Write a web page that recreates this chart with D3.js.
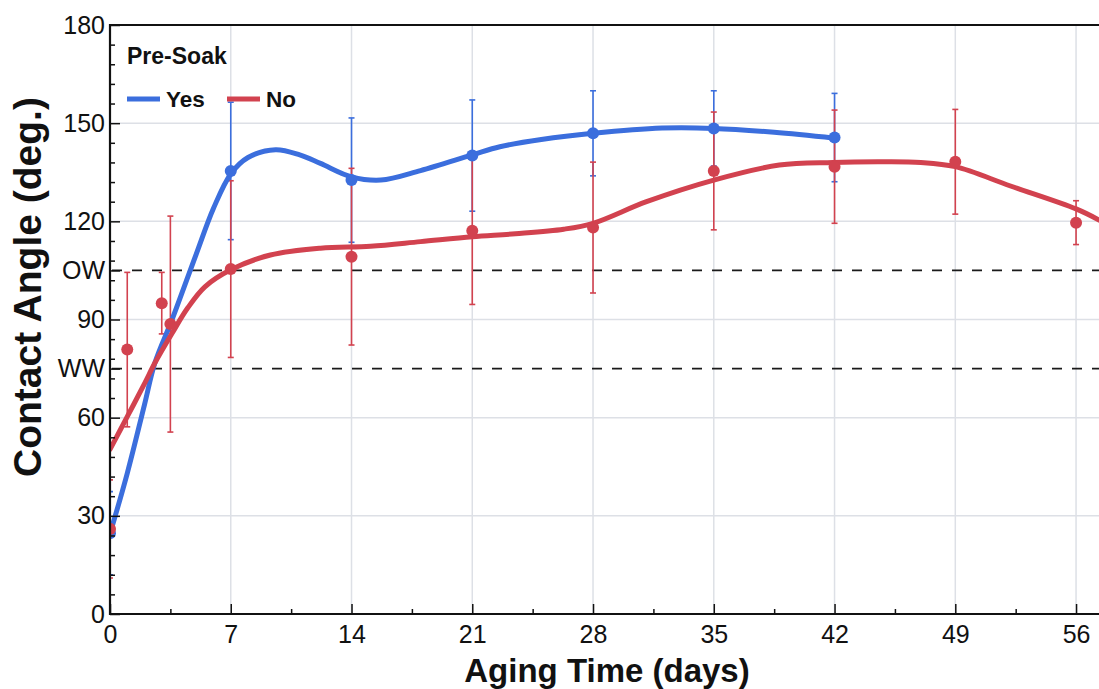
<!DOCTYPE html>
<html>
<head>
<meta charset="utf-8">
<script src="https://cdn.jsdelivr.net/npm/d3@7"></script>
<style>
  html, body { margin: 0; padding: 0; background: #fff; }
  svg { display: block; font-family: "Liberation Sans", Arial, Helvetica, sans-serif; }
</style>
</head>
<body>
<svg id="chart" width="1099" height="689"></svg>
<script>
// ---------------- data ----------------
const xDomain = [0, 57.33];
const yDomain = [0, 180];
const xMajorTicks = [0, 7, 14, 21, 28, 35, 42, 49, 56];
const xMinorTicks = [3.5, 10.5, 17.5, 24.5, 31.5, 38.5, 45.5, 52.5];
const yMajorTicks = [0, 30, 60, 90, 120, 150, 180];
const yRefLines = [75, 105];
const yRefLabels = ["WW", "OW"];
const yMinorTicks = [6, 12, 18, 24, 36, 42, 48, 54, 66, 72, 78, 84, 96, 102, 108, 114, 126, 132, 138, 144, 156, 162, 168, 174];

const seriesNames = ["Yes", "No"];
const legendTitle = "Pre-Soak";
const xTitle = "Aging Time (days)";
const yTitle = "Contact Angle (deg.)";

// Pre-soak: Yes (measured points)
const yesDays = [0, 7, 14, 21, 28, 35, 42];
const yesMean = [24.7, 135.4, 132.6, 140.1, 146.9, 148.4, 145.6];
const yesErr  = [12.7, 21, 19, 17, 13, 11.5, 13.5];

// Pre-soak: No (measured points)
const noDays = [0, 1, 3, 3.5, 7, 14, 21, 28, 35, 42, 49, 56];
const noMean = [26, 80.8, 95, 88.6, 105.4, 109.2, 117.1, 118.1, 135.4, 136.7, 138.2, 119.6];
const noErr  = [15, 23.6, 9.4, 33, 27, 27, 22.5, 20, 18, 17.3, 16, 6.7];

// Fitted trend curves
const yesFitDays = [0, 1, 2, 2.6, 3.6, 5, 6, 7, 8, 9.6, 11, 12.2, 14, 15.7, 18, 21, 22.6, 25, 28, 32, 35, 38.5, 42];
const yesFitVals = [24.5, 43, 64, 76.7, 90, 110, 124, 134.5, 139.5, 141.9, 140.3, 137.7, 133.6, 132.6, 135.5, 140.3, 142.8, 145, 146.9, 148.5, 148.4, 147.2, 145.4];

const noFitDays = [0, 1, 2, 2.6, 3.6, 4.5, 5.5, 7, 9.3, 12.2, 15.1, 18, 21, 23.5, 26.3, 28, 31.1, 35, 38.8, 41.9, 44.6, 47, 49, 52.2, 56, 57.33];
const noFitVals = [50.3, 60.3, 70.4, 76.7, 85.8, 93.5, 100, 105.2, 109.7, 111.8, 112.4, 113.8, 115.3, 116.2, 117.6, 119.4, 126, 132.6, 137.2, 138, 138.2, 138, 136.7, 130.8, 123.8, 120.4];

const colors = { Yes: "#3b6edd", No: "#d2424f" };

// ---------------- layout ----------------
const svg = d3.select("#chart");
const W = 1099, H = 689;
const m = { left: 110, top: 25, right: 0, bottom: 75 };
const x = d3.scaleLinear().domain(xDomain).range([m.left, W - m.right]);
const y = d3.scaleLinear().domain(yDomain).range([H - m.bottom, m.top]);
const x0 = x.range()[0], x1 = x.range()[1], yb = y.range()[0], yt = y.range()[1];

svg.append("defs").append("clipPath").attr("id", "plotclip")
  .append("rect").attr("x", x0 + 1).attr("y", yt).attr("width", x1 - x0).attr("height", yb - yt);

// grid
const grid = svg.append("g");
grid.selectAll("line.gx").data(xMajorTicks.filter(d => d > 0)).join("line")
  .attr("x1", d => x(d)).attr("x2", d => x(d)).attr("y1", yt).attr("y2", yb)
  .attr("stroke", "#dde0e6").attr("stroke-width", 1.5);
grid.selectAll("line.gy").data(yMajorTicks.filter(d => d > 0 && d < 180)).join("line")
  .attr("x1", x0).attr("x2", x1).attr("y1", d => y(d)).attr("y2", d => y(d))
  .attr("stroke", "#dde0e6").attr("stroke-width", 1.5);

// reference dashed lines
svg.append("g").selectAll("line").data(yRefLines).join("line")
  .attr("x1", x0 + 2).attr("x2", x1).attr("y1", d => y(d)).attr("y2", d => y(d))
  .attr("stroke", "#1a1a1a").attr("stroke-width", 1.8).attr("stroke-dasharray", "10,10");

// series
const plot = svg.append("g").attr("clip-path", "url(#plotclip)");
const series = [
  { name: "Yes", days: yesDays, mean: yesMean, err: yesErr, fd: yesFitDays, fv: yesFitVals },
  { name: "No",  days: noDays,  mean: noMean,  err: noErr,  fd: noFitDays,  fv: noFitVals }
];
const line = d3.line().x(d => x(d[0])).y(d => y(d[1])).curve(d3.curveCatmullRom.alpha(0.5));

// error bars
series.forEach(s => {
  const g = plot.append("g").attr("stroke", colors[s.name]).attr("stroke-width", 1.6);
  const pts = s.days.map((d, i) => ({ d, m: s.mean[i], e: s.err[i] }));
  g.selectAll("line.v").data(pts).join("line")
    .attr("x1", p => x(p.d)).attr("x2", p => x(p.d))
    .attr("y1", p => y(p.m + p.e)).attr("y2", p => y(p.m - p.e));
  g.selectAll("line.t").data(pts).join("line")
    .attr("x1", p => x(p.d) - 3).attr("x2", p => x(p.d) + 3)
    .attr("y1", p => y(p.m + p.e)).attr("y2", p => y(p.m + p.e));
  g.selectAll("line.b").data(pts).join("line")
    .attr("x1", p => x(p.d) - 3).attr("x2", p => x(p.d) + 3)
    .attr("y1", p => y(p.m - p.e)).attr("y2", p => y(p.m - p.e));
});
// fit lines
series.forEach(s => {
  plot.append("path").datum(s.fd.map((d, i) => [d, s.fv[i]]))
    .attr("d", line).attr("fill", "none")
    .attr("stroke", colors[s.name]).attr("stroke-width", 5).attr("stroke-linecap", "round");
});
// points
series.forEach(s => {
  plot.append("g").selectAll("circle").data(s.days.map((d, i) => [d, s.mean[i]])).join("circle")
    .attr("cx", d => x(d[0])).attr("cy", d => y(d[1])).attr("r", 6)
    .attr("fill", colors[s.name]);
});

// axes
const axisFont = g => g.selectAll("text").attr("font-size", 25).attr("fill", "#111")
  .attr("font-family", "'Liberation Sans', Arial, sans-serif");

const gxMaj = svg.append("g").attr("transform", `translate(0,${yb})`)
  .call(d3.axisBottom(x).tickValues(xMajorTicks).tickSize(-10).tickPadding(0).tickFormat(d3.format("d")));
gxMaj.select(".domain").remove();
gxMaj.selectAll("line").attr("stroke", "#111").attr("stroke-width", 1.5);
gxMaj.call(axisFont);
gxMaj.selectAll("text").attr("y", 29).attr("dy", null);

const gxMin = svg.append("g").attr("transform", `translate(0,${yb})`)
  .call(d3.axisBottom(x).tickValues(xMinorTicks).tickSize(-5).tickFormat(""));
gxMin.select(".domain").remove();
gxMin.selectAll("line").attr("stroke", "#111").attr("stroke-width", 1.5);

const yLabelVals = yMajorTicks.concat(yRefLines);
const yFmt = d => { const i = yRefLines.indexOf(d); return i >= 0 ? yRefLabels[i] : String(d); };
const gyMaj = svg.append("g").attr("transform", `translate(${x0},0)`)
  .call(d3.axisLeft(y).tickValues(yLabelVals).tickSize(-10).tickPadding(5).tickFormat(yFmt));
gyMaj.select(".domain").remove();
gyMaj.selectAll("line").attr("stroke", "#111").attr("stroke-width", 1.5);
gyMaj.call(axisFont);

const gyMin = svg.append("g").attr("transform", `translate(${x0},0)`)
  .call(d3.axisLeft(y).tickValues(yMinorTicks).tickSize(-5).tickFormat(""));
gyMin.select(".domain").remove();
gyMin.selectAll("line").attr("stroke", "#111").attr("stroke-width", 1.5);

// frame lines
svg.append("line").attr("x1", x0).attr("x2", x0).attr("y1", yt - 1).attr("y2", yb + 1).attr("stroke", "#111").attr("stroke-width", 2.2);
svg.append("line").attr("x1", x0).attr("x2", x1).attr("y1", yb).attr("y2", yb).attr("stroke", "#111").attr("stroke-width", 2.2);
svg.append("line").attr("x1", x0).attr("x2", x1).attr("y1", yt).attr("y2", yt).attr("stroke", "#111").attr("stroke-width", 2.2);

// axis titles
svg.append("text").attr("x", 607).attr("y", 682).attr("text-anchor", "middle")
  .attr("font-size", 33).attr("font-weight", "bold").attr("fill", "#111").text(xTitle);
svg.append("text").attr("transform", "translate(41,287) rotate(-90)").attr("text-anchor", "middle")
  .attr("font-size", 39).attr("font-weight", "bold").attr("fill", "#111").text(yTitle);

// legend
const leg = svg.append("g");
leg.append("text").attr("x", 127).attr("y", 64).attr("font-size", 23).attr("font-weight", "bold")
  .attr("fill", "#111").text(legendTitle);
const legX = [127, 227];
seriesNames.forEach((n, i) => {
  leg.append("line").attr("x1", legX[i]).attr("x2", legX[i] + 33).attr("y1", 99).attr("y2", 99)
    .attr("stroke", colors[n]).attr("stroke-width", 5);
  leg.append("text").attr("x", legX[i] + 39).attr("y", 107).attr("font-size", 22.5).attr("font-weight", "bold")
    .attr("fill", "#111").text(n);
});
</script>
</body>
</html>
